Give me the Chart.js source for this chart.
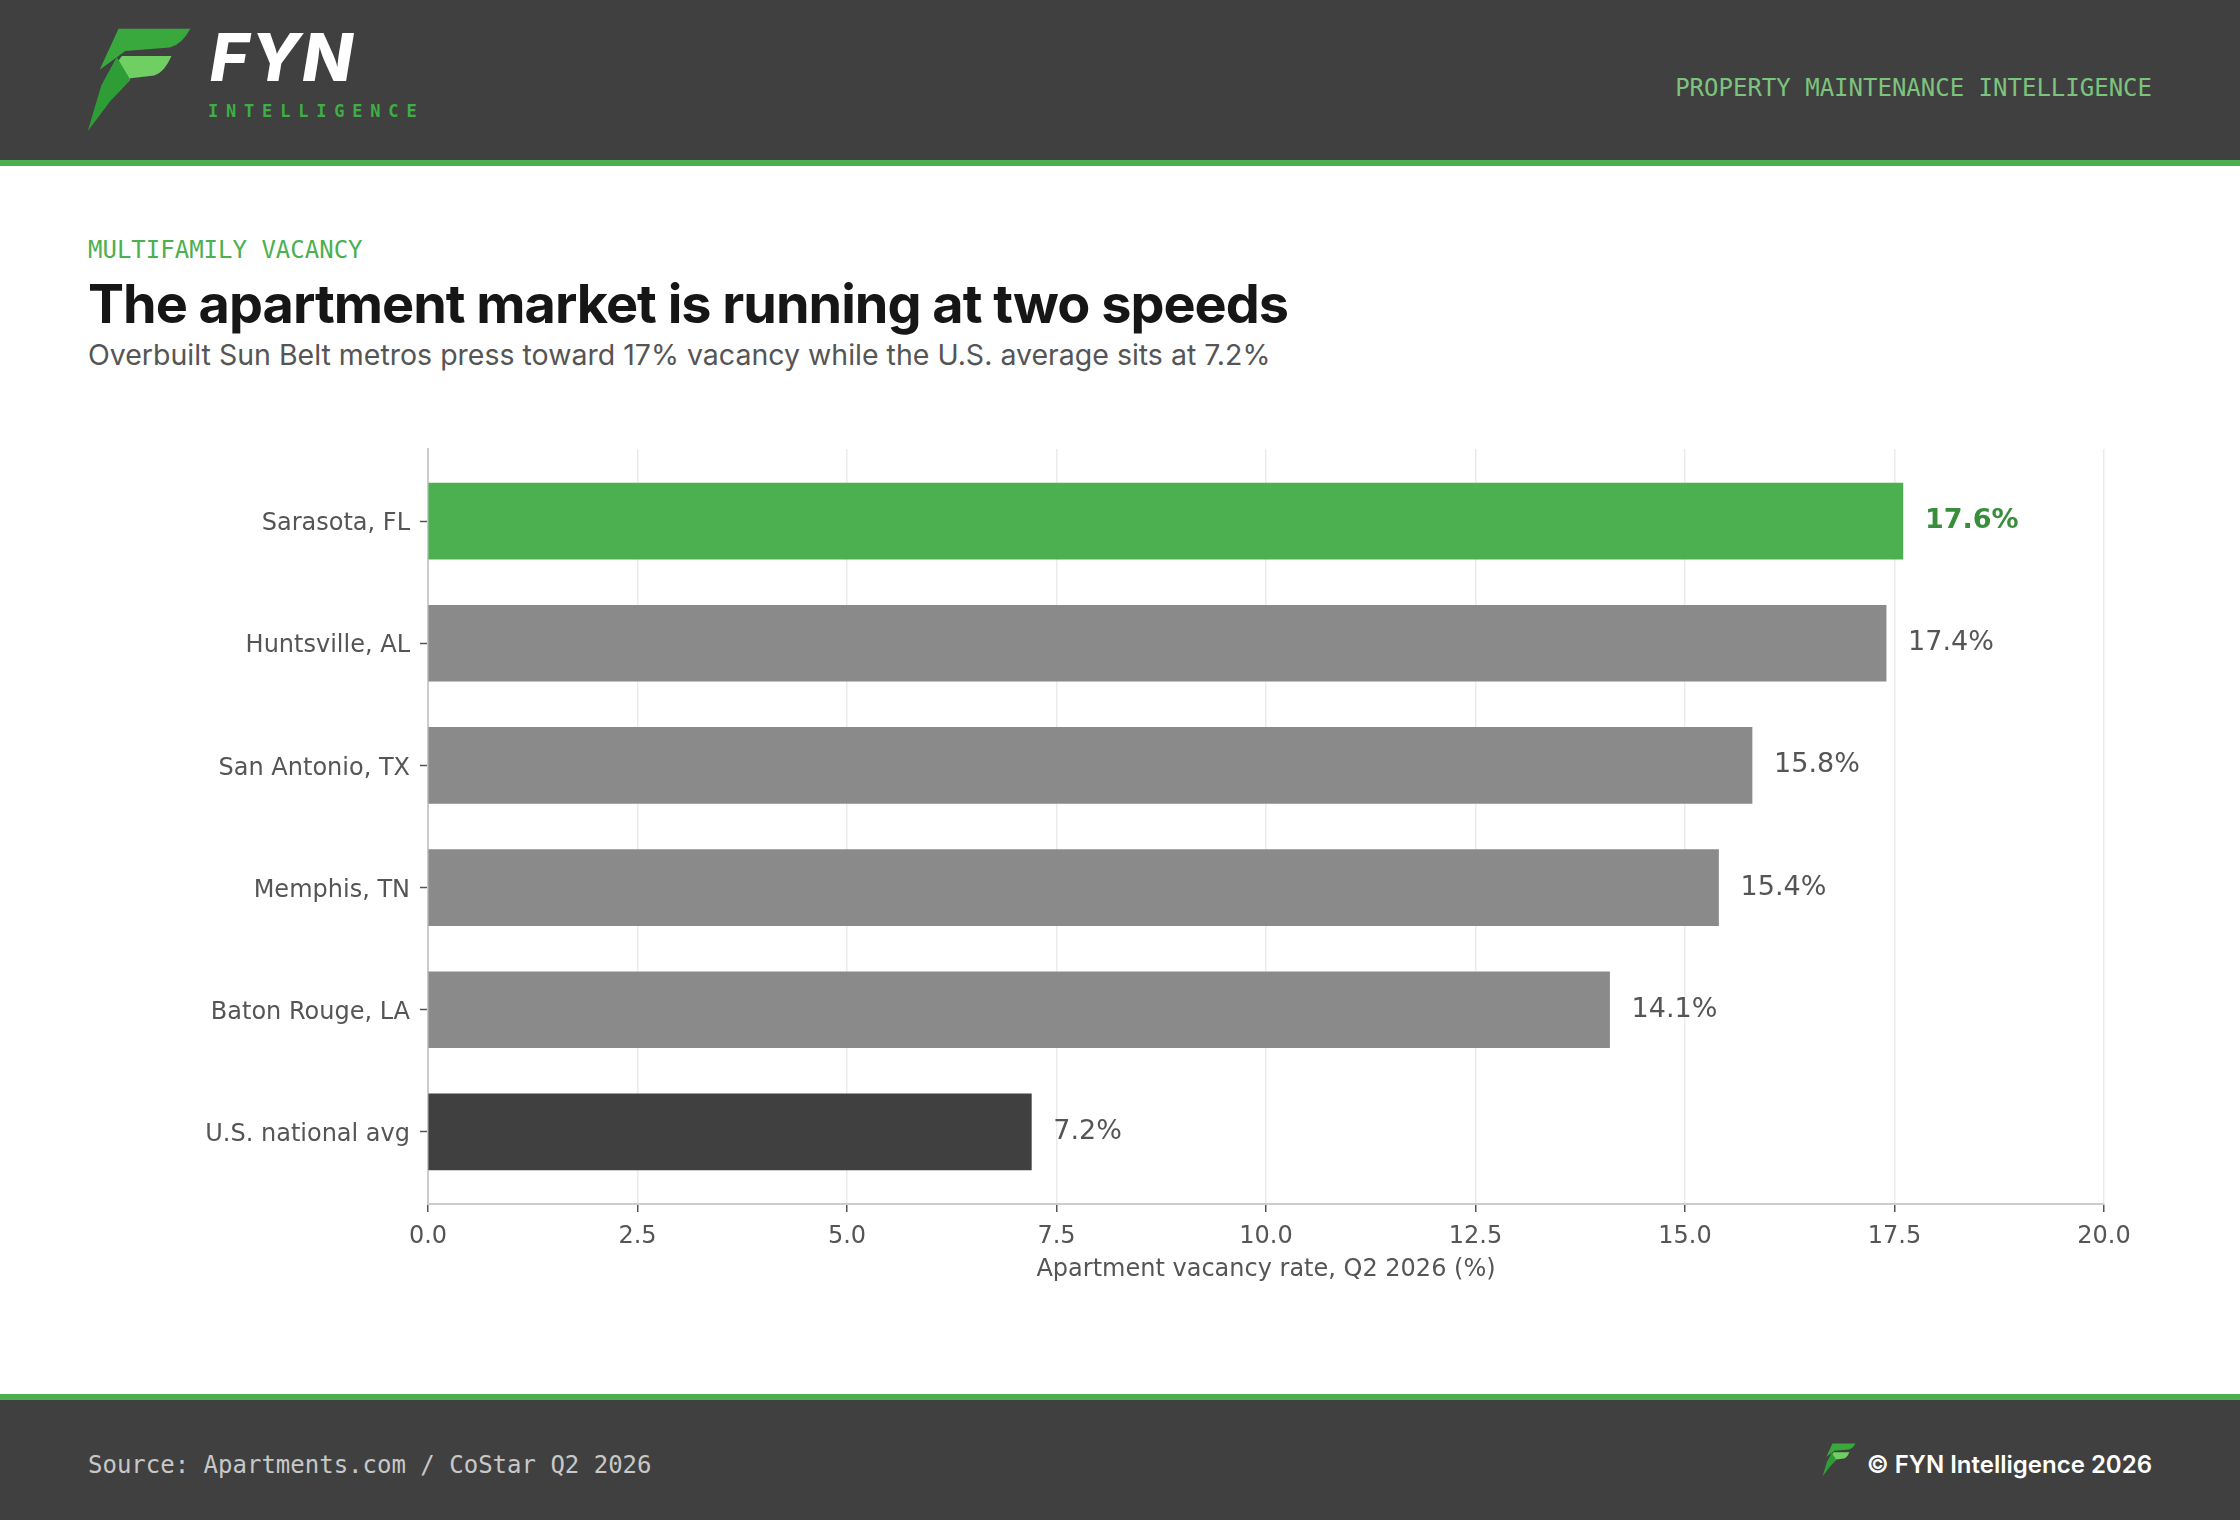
<!DOCTYPE html>
<html>
<head>
<meta charset="utf-8">
<script src="https://cdn.jsdelivr.net/npm/chart.js@4.4.1/dist/chart.umd.min.js"></script>
<style>
  html, body { margin: 0; padding: 0; background: #fff; }
  body { width: 2240px; height: 1520px; position: relative; overflow: hidden; font-family: Inter, "DejaVu Sans", sans-serif; }
  .header { position: absolute; left: 0; top: 0; width: 2240px; height: 160px; background: #404040; }
  .header-line { position: absolute; left: 0; top: 160px; width: 2240px; height: 6px; background: #4caf50; }
  .logo { position: absolute; left: 86px; top: 27px; width: 106px; height: 106px; }
  .brand { position: absolute; left: 210px; top: 24px; color: #fff; font: italic 800 66px Inter, sans-serif; letter-spacing: 2px; line-height: 1; }
  .brand-sub { position: absolute; left: 208px; top: 103px; color: #3fae44; font: 700 17px "DejaVu Sans Mono", monospace; letter-spacing: 7.8px; line-height: 1; }
  .tagline { position: absolute; right: 88px; top: 74px; color: #7cc47e; font: 24px "DejaVu Sans Mono", monospace; line-height: 1.2; }
  .kicker { position: absolute; left: 88px; top: 236px; color: #4caf50; font: 500 24px "DejaVu Sans Mono", monospace; line-height: 1.2; }
  .title { position: absolute; left: 88px; top: 272px; color: #161616; font: 700 54px Inter, sans-serif; letter-spacing: -1px; line-height: 1.2; }
  .subtitle { position: absolute; left: 88px; top: 338px; color: #555; font: 28.5px Inter, sans-serif; line-height: 1.2; }
  #chart { position: absolute; left: 0; top: 400px; }
  .footer-line { position: absolute; left: 0; top: 1394px; width: 2240px; height: 6px; background: #4caf50; }
  .footer { position: absolute; left: 0; top: 1400px; width: 2240px; height: 120px; background: #404040; }
  .source { position: absolute; left: 88px; top: 1451px; color: #c8c8c8; font: 24px "DejaVu Sans Mono", monospace; line-height: 1.2; }
  .copy { position: absolute; right: 88px; top: 1451px; color: #fff; font: 600 24px Inter, sans-serif; line-height: 1.2; }
  .flogo { position: absolute; left: 1822px; top: 1443px; width: 34px; height: 34px; }
</style>
</head>
<body>
<svg width="0" height="0" style="position:absolute">
  <defs>
    <symbol id="fmark" viewBox="55 40 310 310">
      <path d="M150,45 L360,45 Q335,92 300,100 L170,110 L95,165 Z" fill="#39a83d"/>
      <path d="M160,125 L305,125 Q285,172 255,182 L185,190 L130,235 L142,150 Z" fill="#6fcf62"/>
      <path d="M145,128 L185,195 L125,258 L60,345 L100,210 Z" fill="#2f9d36"/>
    </symbol>
  </defs>
</svg>

<div class="header"></div>
<div class="header-line"></div>
<svg class="logo"><use href="#fmark"/></svg>
<div class="brand">FYN</div>
<div class="brand-sub">INTELLIGENCE</div>
<div class="tagline">PROPERTY MAINTENANCE INTELLIGENCE</div>

<div class="kicker">MULTIFAMILY VACANCY</div>
<div class="title">The apartment market is running at two speeds</div>
<div class="subtitle">Overbuilt Sun Belt metros press toward 17% vacancy while the U.S. average sits at 7.2%</div>

<canvas id="chart" width="2240" height="900"></canvas>

<div class="footer-line"></div>
<div class="footer"></div>
<div class="source">Source: Apartments.com / CoStar Q2 2026</div>
<svg class="flogo"><use href="#fmark"/></svg>
<div class="copy">© FYN Intelligence 2026</div>

<script>
// data
var metros = ['Sarasota, FL', 'Huntsville, AL', 'San Antonio, TX', 'Memphis, TN', 'Baton Rouge, LA', 'U.S. national avg'];
var vacancy = [17.6, 17.4, 15.8, 15.4, 14.1, 7.2];
var barColors = ['#4caf50', '#8a8a8a', '#8a8a8a', '#8a8a8a', '#8a8a8a', '#404040'];
var xTicks = [0, 2.5, 5, 7.5, 10, 12.5, 15, 17.5, 20];

// value labels at the end of each bar
var valueLabels = {
    id: 'valueLabels',
    afterDatasetsDraw: function(chart) {
        var ctx = chart.ctx;
        var meta = chart.getDatasetMeta(0);
        ctx.save();
        ctx.textBaseline = 'middle';
        ctx.textAlign = 'left';
        meta.data.forEach(function(bar, i) {
            if (i === 0) {
                ctx.font = 'bold 27px "DejaVu Sans"';
                ctx.fillStyle = '#388e3c';
            } else {
                ctx.font = '27px "DejaVu Sans"';
                ctx.fillStyle = '#555555';
            }
            ctx.fillText(vacancy[i].toFixed(1) + '%', bar.x + 22, bar.y);
        });
        ctx.restore();
    }
};

new Chart(document.getElementById('chart'), {
    type: 'bar',
    data: {
        datasets: [{
            data: vacancy.map(function(v, i) { return {x: v, y: i}; }),
            backgroundColor: barColors,
            borderWidth: 0,
            barThickness: 76
        }]
    },
    options: {
        indexAxis: 'y',
        responsive: false,
        animation: false,
        devicePixelRatio: 1,
        layout: {padding: {left: 0, right: 136, top: 49, bottom: 16}},
        plugins: {
            legend: {display: false},
            tooltip: {enabled: false}
        },
        scales: {
            x: {
                type: 'linear',
                min: 0,
                max: 20,
                afterBuildTicks: function(scale) {
                    scale.ticks = xTicks.map(function(v) { return {value: v}; });
                },
                afterFit: function(scale) { scale.height = 80; },
                ticks: {
                    callback: function(v) { return v.toFixed(1); },
                    color: '#555555',
                    font: {family: 'DejaVu Sans', size: 24},
                    padding: 10,
                    maxRotation: 0
                },
                grid: {
                    color: '#ebebeb',
                    lineWidth: 1.5,
                    drawTicks: true,
                    tickLength: 8,
                    tickColor: '#555555',
                    tickWidth: 1.5
                },
                border: {display: true, color: '#cccccc', width: 2},
                title: {
                    display: true,
                    text: 'Apartment vacancy rate, Q2 2026 (%)',
                    color: '#555555',
                    font: {family: 'DejaVu Sans', size: 24},
                    padding: {top: 4, bottom: 0}
                }
            },
            y: {
                type: 'linear',
                reverse: true,
                offset: false,
                min: -0.59,
                max: 5.59,
                afterBuildTicks: function(scale) {
                    scale.ticks = metros.map(function(m, i) { return {value: i}; });
                },
                afterFit: function(scale) { scale.width = 428; },
                ticks: {
                    callback: function(v) { return metros[v]; },
                    color: '#555555',
                    font: {family: 'DejaVu Sans', size: 24},
                    padding: 10,
                    labelOffset: 3
                },
                grid: {
                    offset: false,
                    drawOnChartArea: false,
                    drawTicks: true,
                    tickLength: 8,
                    tickColor: '#555555',
                    tickWidth: 1.5
                },
                border: {display: true, color: '#cccccc', width: 2}
            }
        }
    },
    plugins: [valueLabels]
});
</script>
</body>
</html>
